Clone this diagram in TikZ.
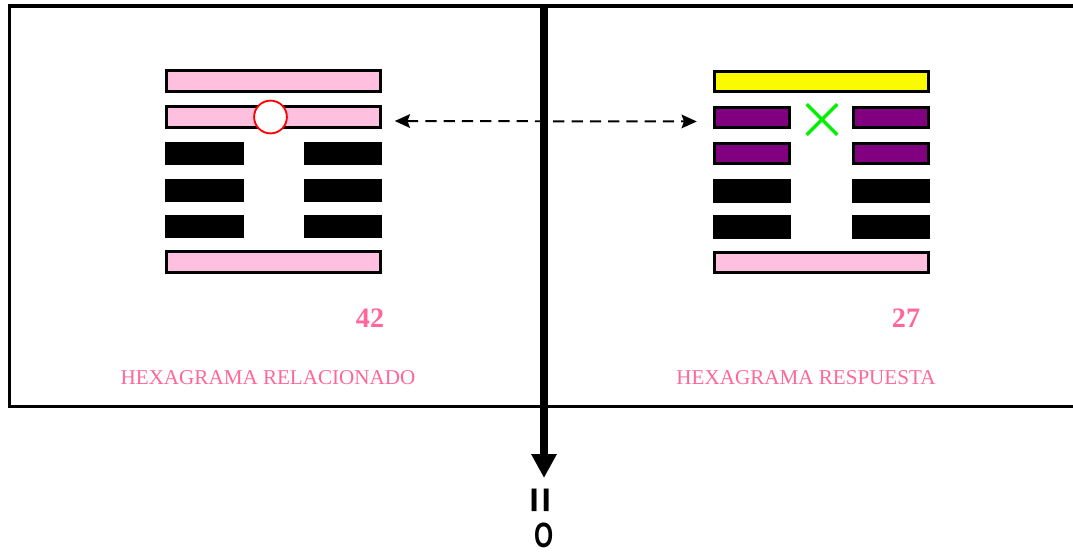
\documentclass[tikz,border=0pt]{standalone}
\usepackage{fontspec}
\setmainfont{Liberation Serif}
\setsansfont{Liberation Sans}
\usepackage{tikz}
\usetikzlibrary{arrows.meta,shapes.misc,positioning}
\definecolor{barpink}{RGB}{255,192,224}
\definecolor{barpurple}{RGB}{128,0,128}
\definecolor{baryellow}{RGB}{250,250,0}
\definecolor{crossgreen}{RGB}{0,240,0}
\definecolor{labelpink}{RGB}{255,102,153}

\begin{document}
\begin{tikzpicture}[x=0.025cm, y=-0.025cm,
    solid bar/.style={draw, line width=2pt, minimum width=5.35cm, minimum height=0.51cm, inner sep=0pt},
    half bar/.style={draw, line width=2pt, minimum width=1.89cm, minimum height=0.51cm, inner sep=0pt},
    old yang/.style={circle, draw=red, line width=1.3pt, fill=white, minimum size=0.82cm, inner sep=0pt},
    old yin/.style={cross out, draw=crossgreen, line width=2.4pt, minimum size=0.68cm, inner sep=0pt},
    number/.style={text=labelpink, font=\fontsize{20}{24}\selectfont\bfseries},
    caption/.style={text=labelpink, font=\fontsize{15}{18}\selectfont}]
    \useasboundingbox (0,0) rectangle (1073,554);

    % Frame
    \draw[line width=0.09cm] (1080,5.7) -| (9.5,406.5) -- (1080,406.5);

    % Hexagram 42
    \node[solid bar, fill=barpink] (a1) at (273.5,81) {};
    \node[solid bar, fill=barpink] (a2) at (273.5,117) {};
    \foreach \i/\y in {3/153.5, 4/190.5, 5/226.5} {
        \node[half bar, fill=black] (a\i l) at (204.5,\y) {};
        \node[half bar, fill=black] (a\i r) at (343,\y) {};
    }
    \node[solid bar, fill=barpink] (a6) at (273.5,262) {};
    \node[old yang] (ring) at (270.5,117) {};

    % Hexagram 27
    \node[solid bar, fill=baryellow] (b1) at (821.5,81.5) {};
    \foreach \i/\y/\c in {2/117.5/barpurple, 3/153.5/barpurple, 4/191/black, 5/227/black} {
        \node[half bar, fill=\c] (b\i l) at (752,\y) {};
        \node[half bar, fill=\c] (b\i r) at (891,\y) {};
    }
    \node[solid bar, fill=barpink] (b6) at (821.5,262.5) {};
    \node[old yin] (cross) at (822,119.5) {};

    % Labels
    \node[number] (n42) at (370,318) {42};
    \node[number] (n27) at (906,318) {27};
    \node[caption] (rel) at (268,378) {HEXAGRAMA RELACIONADO};
    \node[caption] (resp) at (806,378) {HEXAGRAMA RESPUESTA};

    % Arrows
    \draw[line width=1.4pt, dash pattern=on 8pt off 5pt,
        {Stealth[length=0.38cm,width=0.34cm,inset=0.06cm]}-{Stealth[length=0.38cm,width=0.34cm,inset=0.06cm]},
        shorten <=0.32cm, shorten >=0.4cm] ([yshift=-0.1cm]a2.east) -- ([yshift=-0.1cm]b2l.west);

    \coordinate (axis top) at (544,4);
    \coordinate (axis end) at (544,478);
    \draw[line width=0.18cm, -{Triangle[length=0.6cm,width=0.6cm]}] (axis top) -- (axis end);

    \node[rotate=90, font=\sffamily\bfseries\fontsize{32}{36}\selectfont, inner sep=0pt] (eq) at (544,500) {=};
    \node[font=\sffamily\bfseries\fontsize{25}{30}\selectfont, xscale=0.7, inner sep=0pt] (zero) at (544,535.5) {O};
\end{tikzpicture}
\end{document}
